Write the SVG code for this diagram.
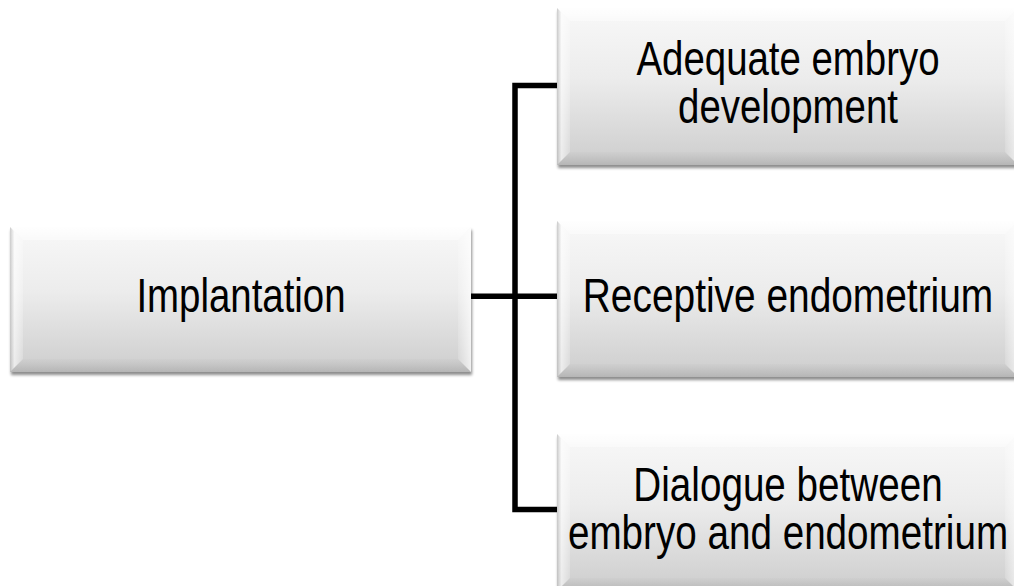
<svg xmlns="http://www.w3.org/2000/svg" width="1014" height="586" viewBox="0 0 1014 586">
  <defs>
    <linearGradient id="face" x1="0" y1="0" x2="0" y2="1">
      <stop offset="0" stop-color="#f8f8f8"/>
      <stop offset="0.45" stop-color="#ececec"/>
      <stop offset="1" stop-color="#cdcdcd"/>
    </linearGradient>
    <linearGradient id="bevelLeft" x1="0" y1="0" x2="1" y2="0">
      <stop offset="0" stop-color="#b8b8b8" stop-opacity="0.7"/>
      <stop offset="0.35" stop-color="#ffffff" stop-opacity="0.6"/>
      <stop offset="1" stop-color="#ffffff" stop-opacity="0.2"/>
    </linearGradient>
    <linearGradient id="bevelRight" x1="0" y1="0" x2="1" y2="0">
      <stop offset="0" stop-color="#ffffff" stop-opacity="0.15"/>
      <stop offset="1" stop-color="#ffffff" stop-opacity="0.7"/>
    </linearGradient>
    <linearGradient id="bevelTop" x1="0" y1="0" x2="0" y2="1">
      <stop offset="0" stop-color="#ffffff" stop-opacity="0.9"/>
      <stop offset="1" stop-color="#ffffff" stop-opacity="0.4"/>
    </linearGradient>
    <linearGradient id="bevelBottom" x1="0" y1="0" x2="0" y2="1">
      <stop offset="0" stop-color="#9a9a9a" stop-opacity="0.05"/>
      <stop offset="1" stop-color="#8a8a8a" stop-opacity="0.35"/>
    </linearGradient>
    <filter id="shadow" x="-5%" y="-5%" width="110%" height="115%">
      <feGaussianBlur in="SourceAlpha" stdDeviation="1.5"/>
      <feOffset dx="1" dy="2.5" result="b"/>
      <feComponentTransfer><feFuncA type="linear" slope="0.45"/></feComponentTransfer>
      <feMerge><feMergeNode/><feMergeNode in="SourceGraphic"/></feMerge>
    </filter>
  </defs>
  <style>
    .face { fill: url(#face); }
    .bt { fill: url(#bevelTop); }
    .bl { fill: url(#bevelLeft); }
    .br { fill: url(#bevelRight); }
    .bb { fill: url(#bevelBottom); }
    /* condensed sans: regular face squeezed horizontally */
    .label { font-family: "Liberation Sans", Arial, sans-serif; font-size: 48px; fill: #000; text-anchor: middle; }
    .wire { fill: none; stroke: #000; stroke-width: 5.5; stroke-linejoin: miter; stroke-linecap: butt; }
  </style>

  <rect width="1014" height="586" fill="#ffffff"/>

  <!-- connectors -->
  <g id="connectors">
    <path class="wire" d="M559,85.5 H515 V509.5 H559"/>
    <path class="wire" d="M470,296.3 H559"/>
  </g>

  <!-- root -->
  <g id="node-implantation">
    <g filter="url(#shadow)">
      <rect class="face" x="10" y="227" width="461" height="145"/>
    </g>
    <polygon class="bt" points="10,227 471,227 458,240 23,240"/>
    <polygon class="bl" points="10,227 23,240 23,359 10,372"/>
    <polygon class="br" points="471,227 471,372 458,359 458,240"/>
    <polygon class="bb" points="10,372 471,372 458,359 23,359"/>
    <text class="label" transform="translate(241 312) scale(0.8 1)">Implantation</text>
  </g>

  <!-- requirements (boxes run slightly past the right edge) -->
  <g id="node-embryo-development">
    <g filter="url(#shadow)">
      <rect class="face" x="557" y="8" width="461" height="157"/>
    </g>
    <polygon class="bt" points="557,8 1018,8 1005,21 570,21"/>
    <polygon class="bl" points="557,8 570,21 570,152 557,165"/>
    <polygon class="br" points="1018,8 1018,165 1005,152 1005,21"/>
    <polygon class="bb" points="557,165 1018,165 1005,152 570,152"/>
    <text class="label" transform="translate(788 75) scale(0.8 1)"><tspan x="0" y="0">Adequate embryo</tspan><tspan x="0" y="48">development</tspan></text>
  </g>

  <g id="node-receptive-endometrium">
    <g filter="url(#shadow)">
      <rect class="face" x="557" y="221" width="461" height="156"/>
    </g>
    <polygon class="bt" points="557,221 1018,221 1005,234 570,234"/>
    <polygon class="bl" points="557,221 570,234 570,364 557,377"/>
    <polygon class="br" points="1018,221 1018,377 1005,364 1005,234"/>
    <polygon class="bb" points="557,377 1018,377 1005,364 570,364"/>
    <text class="label" transform="translate(788 312) scale(0.81 1)">Receptive endometrium</text>
  </g>

  <g id="node-dialogue">
    <g filter="url(#shadow)">
      <rect class="face" x="557" y="434" width="461" height="157"/>
    </g>
    <polygon class="bt" points="557,434 1018,434 1005,447 570,447"/>
    <polygon class="bl" points="557,434 570,447 570,578 557,591"/>
    <polygon class="br" points="1018,434 1018,591 1005,578 1005,447"/>
    <polygon class="bb" points="557,591 1018,591 1005,578 570,578"/>
    <text class="label" transform="translate(788 501) scale(0.805 1)"><tspan x="0" y="0">Dialogue between</tspan><tspan x="0" y="48">embryo and endometrium</tspan></text>
  </g>
</svg>
